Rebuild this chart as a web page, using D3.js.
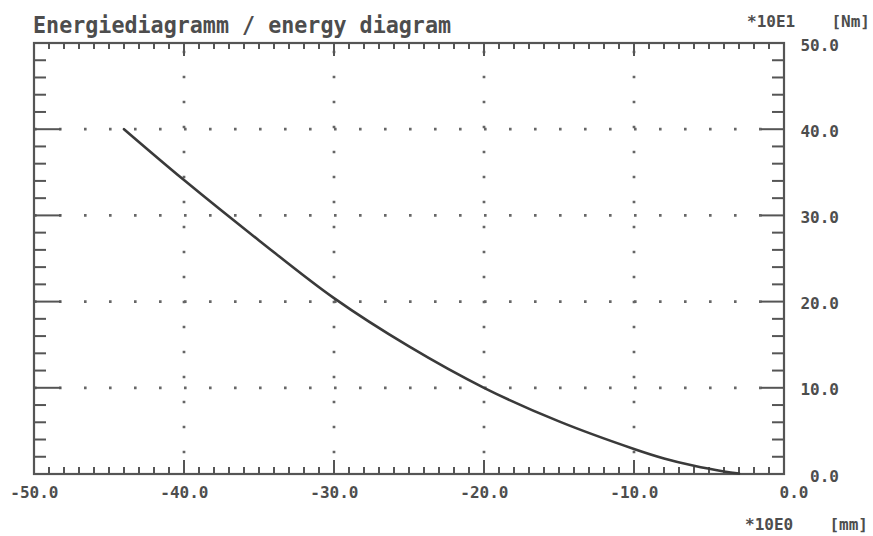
<!DOCTYPE html>
<html>
<head>
<meta charset="utf-8">
<script src="https://cdn.jsdelivr.net/npm/d3@7"></script>
<style>
  html, body { margin: 0; padding: 0; background: #fff; }
  svg { display: block; }
</style>
</head>
<body>
<svg id="chart" width="873" height="536"></svg>
<script>
// ---- data ----
const titleText = "Energiediagramm / energy diagram";
const xUnitFactor = "*10E0";
const xUnit = "[mm]";
const yUnitFactor = "*10E1";
const yUnit = "[Nm]";
const xDomain = [-50, 0];
const yDomain = [0, 50];
const xTickLabels = [-50, -40, -30, -20, -10, 0];
const yTickLabels = [0, 10, 20, 30, 40, 50];
const xGridLines = [-40, -30, -20, -10];
const yGridLines = [10, 20, 30, 40];
const strokeX = [-44, -40, -35, -30, -25, -20, -15, -10, -8, -6, -4, -3];
const energyY = [40.0, 34.1, 27.1, 20.4, 14.8, 10.0, 6.1, 2.9, 1.8, 0.95, 0.3, 0.05];

// ---- layout ----
const svg = d3.select("#chart");
const pLeft = 34, pRight = 784, pTop = 43, pBottom = 474;
const x = d3.scaleLinear().domain(xDomain).range([pLeft, pRight]);
const y = d3.scaleLinear().domain(yDomain).range([pBottom, pTop]);
const axisColor = "#555";
const textColor = "#4d4d4d";
const font = "'DejaVu Sans Mono', 'Liberation Mono', monospace";

// grid dots
const grid = svg.append("g").attr("stroke", "#666").attr("stroke-width", 2.7);
grid.selectAll("line.h").data(yGridLines).join("line")
  .attr("x1", x(xDomain[0])).attr("x2", x(xDomain[1]) - 20)
  .attr("y1", d => y(d)).attr("y2", d => y(d))
  .attr("stroke-dasharray", "2.6 22.4");
grid.selectAll("line.v").data(xGridLines).join("line")
  .attr("x1", d => x(d)).attr("x2", d => x(d))
  .attr("y1", y(yDomain[0])).attr("y2", y(yDomain[1]) + 6)
  .attr("stroke-dasharray", "2.6 22.4")
  .attr("stroke-dashoffset", 4.3);

// ticks
const ticks = svg.append("g").attr("stroke", axisColor).attr("stroke-width", 2);
const xMinor = d3.range(xDomain[0] + 1, xDomain[1], 1);
const yMinor = d3.range(yDomain[0] + 2, yDomain[1], 2);
const isMajor = v => Math.abs(v % 10) < 1e-9;
ticks.selectAll("line.b").data(xMinor).join("line")
  .attr("x1", d => x(d)).attr("x2", d => x(d))
  .attr("y1", pBottom).attr("y2", d => pBottom - (isMajor(d) ? 14 : 7));
ticks.selectAll("line.t").data(xMinor).join("line")
  .attr("x1", d => x(d)).attr("x2", d => x(d))
  .attr("y1", pTop).attr("y2", d => pTop + (isMajor(d) ? 13 : 6));
ticks.selectAll("line.l").data(yMinor).join("line")
  .attr("y1", d => y(d)).attr("y2", d => y(d))
  .attr("x1", pLeft).attr("x2", d => pLeft + (isMajor(d) ? 27 : 12));
ticks.selectAll("line.r").data(yMinor).join("line")
  .attr("y1", d => y(d)).attr("y2", d => y(d))
  .attr("x1", pRight).attr("x2", d => pRight - (isMajor(d) ? 23 : 12));

// frame
svg.append("rect")
  .attr("x", pLeft).attr("y", pTop)
  .attr("width", pRight - pLeft).attr("height", pBottom - pTop)
  .attr("fill", "none").attr("stroke", axisColor).attr("stroke-width", 2.2);

// curve
const pts = strokeX.map((v, i) => [v, energyY[i]]);
svg.append("path")
  .datum(pts)
  .attr("d", d3.line().x(d => x(d[0])).y(d => y(d[1])).curve(d3.curveCatmullRom.alpha(0.5)))
  .attr("fill", "none")
  .attr("stroke", "#3a3a3a")
  .attr("stroke-width", 2.6)
  .attr("stroke-linecap", "round");

// text
const txt = svg.append("g").attr("font-family", font).attr("font-weight", "bold")
  .attr("fill", textColor).attr("font-size", 16);

txt.append("text")
  .attr("x", 33).attr("y", 33)
  .attr("font-size", 23)
  .attr("textLength", 418).attr("lengthAdjust", "spacingAndGlyphs")
  .text(titleText);

txt.selectAll("text.xl").data(xTickLabels).join("text")
  .attr("x", d => x(d) + 24.5).attr("y", 498)
  .attr("text-anchor", "end")
  .text(d => d3.format(".1f")(d).replace("−", "-"));

txt.selectAll("text.yl").data(yTickLabels).join("text")
  .attr("x", 839).attr("y", d => y(d) + 7.5)
  .attr("text-anchor", "end")
  .text(d => d3.format(".1f")(d));

txt.append("text").attr("x", 747).attr("y", 27).text(yUnitFactor);
txt.append("text").attr("x", 870).attr("y", 27).attr("text-anchor", "end").text(yUnit);
txt.append("text").attr("x", 745).attr("y", 530).text(xUnitFactor);
txt.append("text").attr("x", 868).attr("y", 530).attr("text-anchor", "end").text(xUnit);
</script>
</body>
</html>
